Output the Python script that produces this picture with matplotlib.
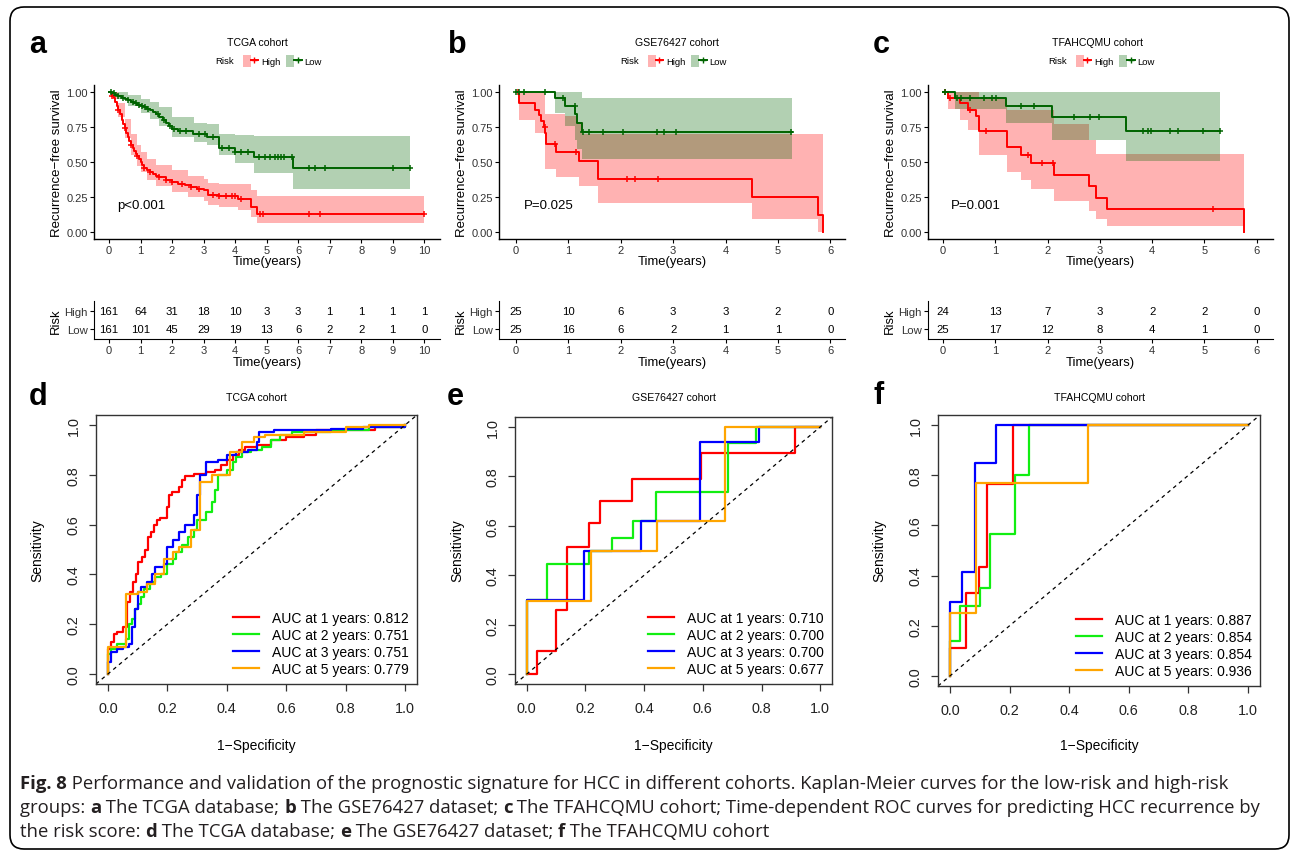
import numpy as np
import matplotlib.pyplot as plt
from matplotlib.patches import FancyBboxPatch, Patch
from matplotlib.lines import Line2D
from matplotlib.legend_handler import HandlerTuple

plt.rcParams['font.family'] = ['Liberation Sans', 'DejaVu Sans']

W, H = 1292, 854
RED, DKGREEN = '#FF0000', '#006400'
ROC_COLS = ['#FF0000', '#11EE11', '#0000FF', '#FFA500']
ROC_YEARS = [1, 2, 3, 5]

# ---------------- Kaplan-Meier: TCGA (a) ----------------
a_high_t = [0, 0.05, 0.1, 0.15, 0.2, 0.25, 0.3, 0.35, 0.4, 0.45, 0.5, 0.55, 0.6, 0.65, 0.7,
            0.75, 0.8, 0.85, 0.9, 0.95, 1.0, 1.05, 1.1, 1.2, 1.3, 1.4, 1.5, 1.6, 1.8, 2.0,
            2.2, 2.4, 2.6, 2.8, 3.0, 3.15, 3.5, 4.1, 4.5, 4.7, 10.0]
a_high_s = [1.0, 0.99, 0.975, 0.955, 0.93, 0.90, 0.87, 0.84, 0.80, 0.77, 0.74, 0.71, 0.68,
            0.65, 0.62, 0.60, 0.58, 0.56, 0.54, 0.52, 0.50, 0.48, 0.46, 0.44, 0.43, 0.415,
            0.40, 0.39, 0.37, 0.355, 0.345, 0.335, 0.32, 0.31, 0.30, 0.265, 0.255, 0.235,
            0.18, 0.13, 0.13]
a_high_ci_t = [0, 0.1, 0.3, 0.5, 0.7, 0.9, 1.0, 1.2, 1.5, 2.0, 2.5, 3.0, 3.15, 3.5, 4.1, 4.5, 4.7, 10.0]
a_high_lo = [1.0, 0.95, 0.82, 0.67, 0.55, 0.47, 0.43, 0.37, 0.33, 0.285, 0.25, 0.22, 0.19, 0.18,
             0.16, 0.11, 0.065, 0.065]
a_high_hi = [1.0, 1.0, 0.92, 0.81, 0.70, 0.62, 0.57, 0.52, 0.48, 0.44, 0.40, 0.38, 0.35, 0.345,
             0.345, 0.30, 0.26, 0.26]
a_high_cens = [0.1, 0.3, 0.5, 0.7, 0.9, 1.1, 1.3, 1.6, 1.8, 2.0, 2.3, 2.6, 2.85, 3.3, 3.5, 3.7,
               3.9, 4.0, 4.2, 4.8, 4.9, 6.35, 6.7, 10.0]

a_low_t = [0, 0.1, 0.2, 0.3, 0.4, 0.5, 0.6, 0.7, 0.8, 0.9, 1.0, 1.1, 1.2, 1.3, 1.4, 1.5, 1.6,
           1.7, 1.8, 1.9, 2.0, 2.2, 2.65, 3.1, 3.5, 4.0, 4.6, 5.85, 9.55]
a_low_s = [1.0, 0.99, 0.98, 0.97, 0.96, 0.95, 0.94, 0.93, 0.92, 0.91, 0.90, 0.89, 0.88, 0.87,
           0.86, 0.845, 0.82, 0.80, 0.78, 0.755, 0.735, 0.72, 0.70, 0.68, 0.60, 0.57, 0.535,
           0.455, 0.455]
a_low_ci_t = [0, 0.3, 0.6, 1.0, 1.3, 1.6, 2.0, 2.7, 3.1, 3.5, 4.0, 4.6, 5.85, 9.55]
a_low_lo = [1.0, 0.95, 0.90, 0.85, 0.81, 0.76, 0.68, 0.64, 0.62, 0.55, 0.49, 0.42, 0.31, 0.31]
a_low_hi = [1.0, 1.0, 0.98, 0.95, 0.93, 0.89, 0.82, 0.78, 0.77, 0.70, 0.69, 0.685, 0.685, 0.685]
a_low_cens = [0.05, 0.15, 0.3, 0.45, 0.6, 0.75, 0.85, 0.95, 1.05, 1.15, 1.25, 1.55, 1.75, 1.95,
              2.05, 2.25, 2.45, 2.85, 3.05, 3.3, 3.6, 3.8, 4.0, 4.2, 4.4, 4.75, 4.95, 5.1,
              5.25, 5.35, 5.45, 5.55, 5.8, 6.35, 6.55, 6.85, 9.0, 9.55]

# ---------------- Kaplan-Meier: GSE76427 (b) ----------------
b_high_t = [0, 0.05, 0.36, 0.43, 0.48, 0.53, 0.56, 0.58, 0.77, 1.2, 1.56, 4.5, 5.76, 5.86]
b_high_s = [1.0, 0.92, 0.875, 0.835, 0.79, 0.75, 0.71, 0.63, 0.575, 0.505, 0.38, 0.25, 0.125, 0.0]
b_high_ci_t = [0, 0.05, 0.36, 0.56, 0.77, 0.94, 1.15, 1.2, 1.27, 1.56, 4.5, 5.76, 5.86]
b_high_lo = [1.0, 0.80, 0.71, 0.45, 0.39, 0.39, 0.39, 0.33, 0.33, 0.21, 0.095, 0.0, 0.0]
b_high_hi = [1.0, 1.0, 1.0, 0.845, 0.845, 0.83, 0.785, 0.785, 0.70, 0.70, 0.70, 0.70, 0.70]
b_high_cens = [0.04, 0.545, 0.75, 1.15, 2.12, 2.28, 2.72]

b_low_t = [0, 0.74, 0.94, 1.13, 1.16, 1.26, 5.27]
b_low_s = [1.0, 0.96, 0.90, 0.845, 0.78, 0.715, 0.715]
b_low_ci_t = [0, 0.74, 0.94, 1.13, 1.16, 1.26, 5.27]
b_low_lo = [1.0, 0.85, 0.76, 0.66, 0.59, 0.525, 0.525]
b_low_hi = [1.0, 1.0, 1.0, 1.0, 1.0, 0.96, 0.96]
b_low_cens = [0.0, 0.05, 0.15, 0.55, 0.9, 1.12, 1.27, 1.39, 1.67, 2.04, 2.69, 2.82, 3.06, 5.25]

# ---------------- Kaplan-Meier: TFAHCQMU (c) ----------------
c_high_t = [0, 0.09, 0.32, 0.48, 0.64, 0.68, 1.23, 1.5, 1.69, 2.13, 2.80, 2.92, 3.13, 5.76]
c_high_s = [1.0, 0.96, 0.92, 0.875, 0.83, 0.72, 0.61, 0.55, 0.49, 0.41, 0.33, 0.245, 0.165, 0.0]
c_high_ci_t = [0, 0.09, 0.32, 0.48, 0.68, 1.23, 1.5, 1.69, 2.13, 2.80, 2.92, 3.13, 5.76]
c_high_lo = [1.0, 0.88, 0.80, 0.73, 0.55, 0.43, 0.37, 0.31, 0.22, 0.15, 0.095, 0.045, 0.045]
c_high_hi = [1.0, 1.0, 1.0, 1.0, 0.95, 0.87, 0.87, 0.87, 0.77, 0.66, 0.56, 0.56, 0.56]
c_high_cens = [0.03, 0.13, 0.51, 0.82, 1.63, 1.9, 2.1, 5.16]

c_low_t = [0, 0.22, 1.2, 2.08, 3.5, 5.3]
c_low_s = [1.0, 0.96, 0.90, 0.82, 0.72, 0.72]
c_low_ci_t = [0, 0.22, 1.2, 2.08, 3.5, 5.3]
c_low_lo = [1.0, 0.88, 0.78, 0.66, 0.51, 0.51]
c_low_hi = [1.0, 1.0, 1.0, 1.0, 1.0, 1.0]
c_low_cens = [0.03, 0.26, 0.35, 0.51, 0.78, 0.94, 1.01, 1.5, 1.74, 2.51, 2.82, 2.99, 3.83,
              3.92, 3.98, 4.35, 4.5, 4.98, 5.3]

# ---------------- numbers at risk ----------------
a_risk_times = list(range(0, 11))
a_risk_high = [161, 64, 31, 18, 10, 3, 3, 1, 1, 1, 1]
a_risk_low = [161, 101, 45, 29, 19, 13, 6, 2, 2, 1, 0]
b_risk_times = list(range(0, 7))
b_risk_high = [25, 10, 6, 3, 3, 2, 0]
b_risk_low = [25, 16, 6, 2, 1, 1, 0]
c_risk_times = list(range(0, 7))
c_risk_high = [24, 13, 7, 3, 2, 2, 0]
c_risk_low = [25, 17, 12, 8, 4, 1, 0]

# ---------------- ROC: TCGA (d) ----------------
d_roc = [
    ([0, 0, 0.01, 0.02, 0.03, 0.05, 0.065, 0.075, 0.085, 0.095, 0.10, 0.115, 0.125, 0.135, 0.145,
      0.155, 0.165, 0.175, 0.20, 0.205, 0.215, 0.24, 0.25, 0.26, 0.29, 0.33, 0.36, 0.38, 0.40,
      0.42, 0.44, 0.46, 0.50, 0.55, 0.60, 0.66, 0.70, 0.90, 1.0],
     [0, 0.10, 0.13, 0.16, 0.17, 0.19, 0.29, 0.33, 0.37, 0.40, 0.45, 0.47, 0.50, 0.55, 0.57,
      0.60, 0.62, 0.625, 0.67, 0.72, 0.73, 0.75, 0.78, 0.795, 0.805, 0.81, 0.82, 0.84, 0.86,
      0.88, 0.90, 0.91, 0.92, 0.94, 0.95, 0.96, 0.98, 0.99, 1.0]),
    ([0, 0, 0.01, 0.03, 0.06, 0.07, 0.08, 0.09, 0.10, 0.11, 0.12, 0.14, 0.16, 0.18, 0.20, 0.22,
      0.23, 0.25, 0.27, 0.29, 0.30, 0.33, 0.35, 0.36, 0.37, 0.40, 0.42, 0.43, 0.45, 0.48, 0.52,
      0.55, 0.58, 0.62, 0.75, 0.88, 1.0],
     [0, 0.08, 0.10, 0.12, 0.14, 0.20, 0.22, 0.26, 0.28, 0.31, 0.34, 0.37, 0.39, 0.40, 0.44,
      0.46, 0.49, 0.52, 0.55, 0.58, 0.62, 0.65, 0.69, 0.74, 0.80, 0.82, 0.85, 0.87, 0.89, 0.90,
      0.91, 0.94, 0.96, 0.97, 0.98, 0.99, 1.0]),
    ([0, 0, 0.01, 0.03, 0.05, 0.07, 0.08, 0.09, 0.10, 0.11, 0.13, 0.15, 0.16, 0.19, 0.20, 0.22,
      0.24, 0.26, 0.29, 0.30, 0.31, 0.33, 0.37, 0.40, 0.43, 0.47, 0.50, 0.51, 0.56, 0.75, 0.86,
      1.0],
     [0, 0.05, 0.09, 0.10, 0.11, 0.12, 0.19, 0.26, 0.33, 0.35, 0.37, 0.40, 0.43, 0.44, 0.51,
      0.54, 0.57, 0.60, 0.64, 0.72, 0.80, 0.85, 0.86, 0.88, 0.89, 0.90, 0.93, 0.97, 0.98,
      0.985, 0.99, 1.0]),
    ([0, 0, 0.06, 0.10, 0.13, 0.16, 0.19, 0.22, 0.24, 0.28, 0.31, 0.35, 0.41, 0.45, 0.49, 0.53,
      0.66, 0.80, 0.88, 1.0],
     [0, 0.11, 0.32, 0.33, 0.36, 0.40, 0.46, 0.49, 0.51, 0.58, 0.77, 0.80, 0.89, 0.93, 0.95,
      0.96, 0.97, 0.99, 1.0, 1.0]),
]
d_auc = [0.812, 0.751, 0.751, 0.779]

# ---------------- ROC: GSE76427 (e) ----------------
e_roc = [
    ([0, 0.034, 0.10, 0.138, 0.212, 0.25, 0.36, 0.592, 0.913, 1.0],
     [0, 0.094, 0.26, 0.516, 0.61, 0.70, 0.79, 0.894, 1.0, 1.0]),
    ([0, 0, 0.068, 0.212, 0.289, 0.363, 0.44, 0.684, 0.78, 1.0],
     [0, 0.30, 0.447, 0.50, 0.55, 0.62, 0.735, 0.935, 1.0, 1.0]),
    ([0, 0, 0.196, 0.39, 0.59, 0.79, 1.0],
     [0, 0.30, 0.50, 0.62, 0.94, 1.0, 1.0]),
    ([0, 0, 0.219, 0.445, 0.675, 1.0],
     [0, 0.297, 0.50, 0.62, 1.0, 1.0]),
]
e_auc = [0.710, 0.700, 0.700, 0.677]

# ---------------- ROC: TFAHCQMU (f) ----------------
f_roc = [
    ([0, 0, 0.053, 0.098, 0.126, 0.21, 1.0],
     [0, 0.11, 0.33, 0.435, 0.765, 1.0, 1.0]),
    ([0, 0, 0.034, 0.10, 0.136, 0.218, 0.266, 1.0],
     [0, 0.14, 0.28, 0.35, 0.565, 0.80, 1.0, 1.0]),
    ([0, 0, 0.039, 0.084, 0.154, 1.0],
     [0, 0.295, 0.415, 0.85, 1.0, 1.0]),
    ([0, 0, 0.089, 0.464, 1.0],
     [0, 0.25, 0.77, 1.0, 1.0]),
]
f_auc = [0.887, 0.854, 0.854, 0.936]

cohorts = ['TCGA cohort', 'GSE76427 cohort', 'TFAHCQMU cohort']
pvals = ['p<0.001', 'P=0.025', 'P=0.001']

caption = [
    [('Fig. 8', True), (' Performance and validation of the prognostic signature for HCC in different '
                        'cohorts. Kaplan-Meier curves for the low-risk and high-risk', False)],
    [('groups: ', False), ('a', True), (' The TCGA database; ', False), ('b', True),
     (' The GSE76427 dataset; ', False), ('c', True),
     (' The TFAHCQMU cohort; Time-dependent ROC curves for predicting HCC recurrence by', False)],
    [('the risk score: ', False), ('d', True), (' The TCGA database; ', False), ('e', True),
     (' The GSE76427 dataset; ', False), ('f', True), (' The TFAHCQMU cohort', False)],
]

# ---------------------------------------------------------------
fig = plt.figure(figsize=(W / 100, H / 100), dpi=100)
bg = fig.add_axes([0, 0, 1, 1], zorder=-1)
bg.set_xlim(0, W)
bg.set_ylim(H, 0)
bg.axis('off')


def box(l, t, r, b):
    return [l / W, 1 - b / H, (r - l) / W, (b - t) / H]


bg.add_patch(FancyBboxPatch((10, 8), 1279, 842, boxstyle='round,pad=0,rounding_size=14',
                            fc='none', ec='black', lw=1.2))

TXT = '#333333'


def step_at(t, s, x):
    idx = np.searchsorted(t, x, side='right') - 1
    return np.asarray(s)[idx]


def km_panel(ax, groups, xlim, xmax, ptxt):
    for t, s, ct, lo, hi, cens, col in groups:
        ax.fill_between(ct, lo, hi, step='post', color=col, alpha=0.3, lw=0)
    for t, s, ct, lo, hi, cens, col in groups:
        ax.step(t, s, where='post', color=col, lw=1.4)
        ax.plot(cens, step_at(t, s, cens), ls='none', marker='+', ms=5, mew=1.1, color=col)
    ax.set_xlim(*xlim)
    ax.set_ylim(-0.05, 1.05)
    ax.set_xticks(range(0, xmax + 1))
    ax.set_yticks([0, 0.25, 0.5, 0.75, 1.0])
    ax.set_yticklabels(['0.00', '0.25', '0.50', '0.75', '1.00'])
    ax.tick_params(labelsize=8, labelcolor=TXT, length=3, pad=1.5, width=0.8)
    for sp in ['top', 'right']:
        ax.spines[sp].set_visible(False)
    for sp in ['left', 'bottom']:
        ax.spines[sp].set_linewidth(1.0)
    ax.set_facecolor('none')
    ax.text(0.25 if xmax == 10 else 0.15, 0.19, ptxt, fontsize=9.5, va='center')


def risk_panel(ax, times, high, low, xlim):
    for x, n in zip(times, high):
        ax.text(x, 2, str(n), ha='center', va='center', fontsize=8.2)
    for x, n in zip(times, low):
        ax.text(x, 1, str(n), ha='center', va='center', fontsize=8.2)
    ax.set_xlim(*xlim)
    ax.set_ylim(0.444, 2.556)
    ax.set_xticks(times)
    ax.set_yticks([2, 1])
    ax.set_yticklabels(['High', 'Low'])
    ax.get_yticklabels()[0].set_color('#FF2020')
    ax.get_yticklabels()[1].set_color('#1A7F1A')
    ax.tick_params(labelsize=8, labelcolor=TXT, length=3, pad=1.5, width=0.8)
    ax.tick_params(axis='y', labelsize=8.2)
    for sp in ['top', 'right']:
        ax.spines[sp].set_visible(False)
    ax.set_facecolor('none')


def roc_panel(ax, curves, aucs):
    for (fp, tp), col, yr, auc in zip(curves, ROC_COLS, ROC_YEARS, aucs):
        ax.plot(fp, tp, drawstyle='steps-post', color=col, lw=1.6,
                label=f'AUC at {yr} years: {auc:.3f}')
    ax.axline((0, 0), (1, 1), color='black', lw=0.9, ls=(0, (3, 3)))
    ax.set_xlim(-0.04, 1.04)
    ax.set_ylim(-0.04, 1.04)
    ticks = [0, 0.2, 0.4, 0.6, 0.8, 1.0]
    ax.set_xticks(ticks)
    ax.set_yticks(ticks)
    ax.set_xticklabels([f'{v:.1f}' for v in ticks])
    ax.set_yticklabels([f'{v:.1f}' for v in ticks], rotation=90, va='center')
    ax.tick_params(labelsize=10.4, labelcolor='#222222', length=5, width=0.9, color='#333333')
    ax.tick_params(axis='x', pad=7.5)
    ax.tick_params(axis='y', pad=6)
    for sp in ax.spines.values():
        sp.set_color('#333333')
        sp.set_linewidth(1.0)
    ax.set_facecolor('none')
    ax.legend(loc='lower right', frameon=False, fontsize=10, handlelength=1.9,
              handletextpad=0.9, labelspacing=0.2, borderaxespad=0.3, borderpad=0.3)


# ---- top row: KM curves ----
km_specs = [
    (94, 440, (-0.476, 10.5), 10,
     [(a_high_t, a_high_s, a_high_ci_t, a_high_lo, a_high_hi, a_high_cens, RED),
      (a_low_t, a_low_s, a_low_ci_t, a_low_lo, a_low_hi, a_low_cens, DKGREEN)],
     (a_risk_times, a_risk_high, a_risk_low), 257, 215),
    (499, 845, (-0.324, 6.28), 6,
     [(b_high_t, b_high_s, b_high_ci_t, b_high_lo, b_high_hi, b_high_cens, RED),
      (b_low_t, b_low_s, b_low_ci_t, b_low_lo, b_low_hi, b_low_cens, DKGREEN)],
     (b_risk_times, b_risk_high, b_risk_low), 677, 620),
    (928, 1273, (-0.287, 6.31), 6,
     [(c_high_t, c_high_s, c_high_ci_t, c_high_lo, c_high_hi, c_high_cens, RED),
      (c_low_t, c_low_s, c_low_ci_t, c_low_lo, c_low_hi, c_low_cens, DKGREEN)],
     (c_risk_times, c_risk_high, c_risk_low), 1097, 1048),
]

for i, (l, r, xlim, xmax, groups, risk, tx, lx) in enumerate(km_specs):
    ax = fig.add_axes(box(l, 86, r, 240))
    km_panel(ax, groups, xlim, xmax, pvals[i])
    rax = fig.add_axes(box(l, 302, r, 340))
    risk_panel(rax, risk[0], risk[1], risk[2], xlim)
    cx = (l + r) / 2
    bg.text(tx, 43, cohorts[i], fontsize=7.6, ha='center', va='center')
    bg.text(l - 37, 163, 'Recurrence\u2212free survival', fontsize=9.5, rotation=90,
            ha='center', va='center')
    bg.text(cx, 262, 'Time(years)', fontsize=9.4, ha='center', va='center')
    bg.text(cx, 363, 'Time(years)', fontsize=9.4, ha='center', va='center')
    bg.text(l - 38, 321, 'Risk', fontsize=9.4, rotation=90, ha='center', va='center')
    # legend
    bg.text(lx, 62, 'Risk', fontsize=6.8, ha='left', va='center')
    handles = [(Patch(fc=RED, alpha=0.3, lw=0), Line2D([], [], color=RED, lw=1.4, marker='+', ms=5)),
               (Patch(fc=DKGREEN, alpha=0.3, lw=0), Line2D([], [], color=DKGREEN, lw=1.4, marker='+', ms=5))]
    ax.legend(handles, ['High', 'Low'], handler_map={tuple: HandlerTuple(ndivide=None)},
              loc='center left', bbox_to_anchor=(lx + 23, 62), bbox_transform=bg.transData,
              ncol=2, frameon=False, fontsize=6.8, handlelength=1.65, handleheight=1.5,
              handletextpad=0.3, columnspacing=0.6, borderpad=0, numpoints=1)

# ---- bottom row: ROC ----
roc_specs = [
    (96, 416, 417, 685, d_roc, d_auc, 37),
    (515, 418, 832, 685, e_roc, e_auc, 457),
    (938, 416, 1260, 687, f_roc, f_auc, 879),
]
for i, (l, t, r, b, curves, aucs, ylx) in enumerate(roc_specs):
    ax = fig.add_axes(box(l, t, r, b))
    roc_panel(ax, curves, aucs)
    cx = (l + r) / 2
    bg.text(cx, 398, cohorts[i], fontsize=7.6, ha='center', va='center')
    bg.text(ylx, 551, 'Sensitivity', fontsize=10, rotation=90, ha='center', va='center')
    bg.text(cx, 746, '1\u2212Specificity', fontsize=10, ha='center', va='center')

# ---- panel letters ----
for lab, x, y in [('a', 29, 53), ('b', 448, 53), ('c', 873, 53),
                  ('d', 29, 405), ('e', 447, 405), ('f', 873, 404)]:
    bg.text(x, y, lab, fontsize=22, fontweight='bold', ha='left', va='baseline')

# ---- caption ----
renderer = fig.canvas.get_renderer()
for line, yb in zip(caption, [789, 813, 837]):
    x = 20
    for txt, bold in line:
        tt = bg.text(x, yb, txt, fontsize=13.3, family=['Open Sans', 'DejaVu Sans'],
                     fontweight='bold' if bold else 'normal', color='#231F20',
                     ha='left', va='baseline')
        x += tt.get_window_extent(renderer).width

fig.savefig('out.png', dpi=100)
